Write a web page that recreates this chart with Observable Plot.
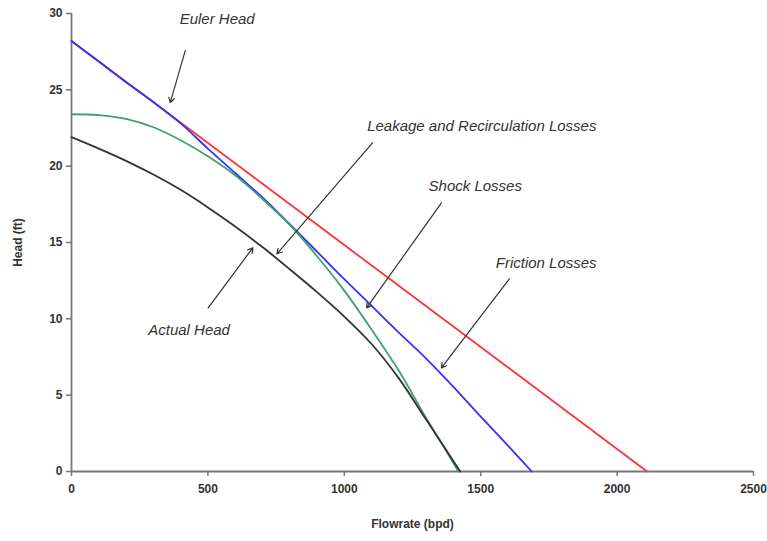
<!DOCTYPE html>
<html>
<head>
<meta charset="utf-8">
<script src="https://cdn.jsdelivr.net/npm/d3@7"></script>
<script src="https://cdn.jsdelivr.net/npm/@observablehq/plot@0.6"></script>
<style>
  html, body { margin: 0; padding: 0; background: #fff; }
</style>
</head>
<body>
<div id="chart"></div>
<script>
// Axis ticks
const xTicks = [0, 500, 1000, 1500, 2000, 2500];
const yTicks = [0, 5, 10, 15, 20, 25, 30];

// Euler head (ideal, straight line)
const eulerFlow = [0, 2110];
const eulerHead = [28.2, 0];

// Head after friction losses
const frictionFlow = [0, 100, 200, 300, 400, 500, 600, 700, 800, 900, 1000, 1100, 1200, 1300, 1400, 1500, 1600, 1687];
const frictionHead = [28.2, 26.85, 25.5, 24.2, 22.8, 21.15, 19.55, 17.95, 16.2, 14.4, 12.6, 10.85, 9.1, 7.4, 5.55, 3.6, 1.7, 0];

// Head after shock losses
const shockFlow = [0, 100, 200, 300, 400, 500, 600, 700, 800, 900, 1000, 1100, 1200, 1300, 1360, 1418];
const shockHead = [23.4, 23.35, 23.1, 22.55, 21.7, 20.65, 19.4, 17.85, 16.15, 14.1, 11.85, 9.3, 6.6, 3.5, 1.75, 0];

// Actual head (after leakage and recirculation losses)
const actualFlow = [0, 100, 200, 300, 400, 500, 600, 700, 800, 900, 1000, 1100, 1200, 1300, 1425];
const actualHead = [21.9, 21.15, 20.35, 19.45, 18.45, 17.3, 16.05, 14.7, 13.25, 11.75, 10.15, 8.35, 6.1, 3.4, 0];

// Callout labels and their leader arrows (in flowrate / head units)
const noteText = ["Euler Head", "Leakage and Recirculation Losses", "Shock Losses", "Friction Losses", "Actual Head"];
const noteFlow = [534, 1504, 1480, 1740, 431];
const noteHead = [29.6, 22.6, 18.66, 13.67, 9.28];
const arrowFlowFrom = [417, 1104, 1356, 1605, 501];
const arrowHeadFrom = [27.57, 21.54, 17.6, 12.62, 10.72];
const arrowFlowTo = [362, 753, 1082, 1356, 665];
const arrowHeadTo = [24.16, 14.26, 10.72, 6.79, 14.66];

const toRows = (qs, hs) => qs.map((q, i) => ({q, h: hs[i]}));
const curves = [
  {rows: toRows(eulerFlow, eulerHead), color: "#ff3333"},
  {rows: toRows(frictionFlow, frictionHead), color: "#3333ff"},
  {rows: toRows(shockFlow, shockHead), color: "#40a070"},
  {rows: toRows(actualFlow, actualHead), color: "#333333"}
];
const notes = noteText.map((t, i) => ({t, q: noteFlow[i], h: noteHead[i]}));
const arrows = arrowFlowFrom.map((q1, i) => ({
  q1, h1: arrowHeadFrom[i], q2: arrowFlowTo[i], h2: arrowHeadTo[i]
}));

const chart = Plot.plot({
  width: 767,
  height: 541,
  marginLeft: 71,
  marginRight: 14,
  marginTop: 13,
  marginBottom: 70,
  x: {domain: [0, 2500]},
  y: {domain: [0, 30]},
  style: {
    fontFamily: "'Liberation Sans', Arial, sans-serif",
    fontSize: "12px",
    fontWeight: "bold",
    color: "#333",
    background: "#fff"
  },
  marks: [
    Plot.axisX({ticks: xTicks, tickFormat: d => String(d), tickSize: 5, tickPadding: 8, label: null, stroke: "#777", strokeWidth: 1.5}),
    Plot.axisY({ticks: yTicks, tickFormat: d => String(d), tickSize: 5, tickPadding: 4, label: null, stroke: "#777", strokeWidth: 1.5}),
    Plot.ruleY([0], {stroke: "#777", strokeWidth: 1.8}),
    Plot.ruleX([0], {stroke: "#777", strokeWidth: 1.8}),
    ...curves.map(c => Plot.line(c.rows, {
      x: "q", y: "h", stroke: c.color, strokeWidth: 1.8,
      curve: c.rows.length > 2 ? "catmull-rom" : "linear"
    })),
    Plot.arrow(arrows, {
      x1: "q1", y1: "h1", x2: "q2", y2: "h2",
      stroke: "#333", strokeWidth: 1.2, headLength: 7
    }),
    Plot.text(notes, {
      x: "q", y: "h", text: "t",
      fontStyle: "italic", fontWeight: "normal", fontSize: 15, fill: "#333"
    }),
    Plot.text(["Head (ft)"], {
      text: d => d, frameAnchor: "left", dx: -53, rotate: -90,
      textAnchor: "middle", lineAnchor: "middle", fontSize: 12, fill: "#333"
    }),
    Plot.text(["Flowrate (bpd)"], {
      text: d => d, frameAnchor: "bottom", dy: 53,
      textAnchor: "middle", lineAnchor: "middle", fontSize: 12, fill: "#333"
    })
  ]
});

document.getElementById("chart").appendChild(chart);
</script>
</body>
</html>
